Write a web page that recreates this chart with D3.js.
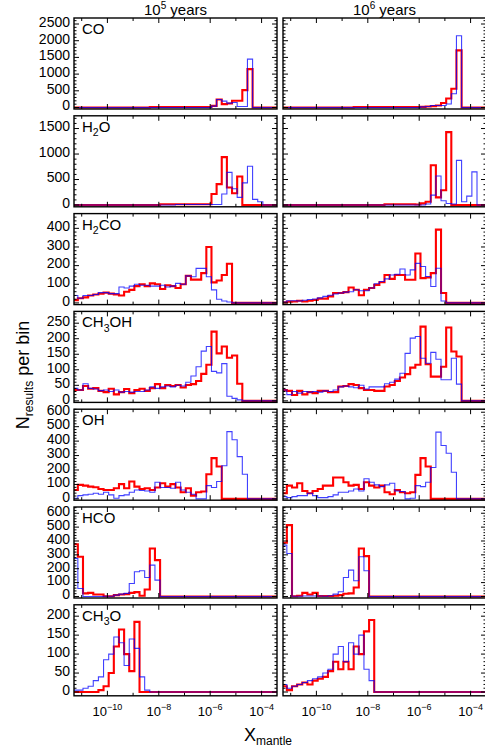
<!DOCTYPE html>
<html><head><meta charset="utf-8">
<script src="https://cdn.jsdelivr.net/npm/d3@7"></script>
<style>
body{margin:0;background:#fff}
svg{display:block}
text{font-family:"Liberation Sans",Arial,Helvetica,sans-serif;fill:#000}
</style>
</head><body>
<svg id="chart" width="485" height="747"></svg>
<script>
// ---------------- DATA ----------------
const species = ["CO","H2O","H2CO","CH3OH","OH","HCO","CH3O"];
const columnTitles = [["10","5"," years"],["10","6"," years"]];
const binStart = -11.35;   // log10 of left edge of first bin
const binWidth = 0.2;      // dex
const xTickExponents = [-10,-8,-6,-4];
const yTickLabels = {
  CO:[0,500,1000,1500,2000,2500],
  H2O:[0,500,1000,1500],
  H2CO:[0,100,200,300,400],
  CH3OH:[0,50,100,150,200,250],
  OH:[0,100,200,300,400,500,600],
  HCO:[0,100,200,300,400,500,600],
  CH3O:[0,50,100,150,200]
};
// counts per bin (bin k starts at binStart + k*binWidth); bins after the list are empty
const CO_5_blue  = [0,0,0,0,0,0,0,0,0,0,0,0,0,0,0,0,0,0,0,0,0,0,0,0,0,0,0,40,240,190,130,150,30,30,1450];
const CO_5_red   = [0,0,0,0,0,0,0,0,0,0,0,0,0,0,0,15,15,15,15,15,15,15,15,15,15,15,15,50,240,100,120,200,200,520,1150];
const CO_6_blue  = [0,0,0,0,0,0,0,0,0,0,0,0,0,0,0,0,0,0,0,0,0,0,0,0,0,0,0,20,30,60,60,60,105,410,2150];
const CO_6_red   = [0,0,0,0,0,0,0,0,0,0,0,0,0,0,15,15,15,15,15,15,15,15,15,15,15,15,15,20,30,40,60,135,270,560,1710];

const H2O_5_blue = [0,0,0,0,0,0,0,0,0,0,0,0,0,0,0,0,0,0,0,0,10,10,10,10,10,10,10,10,10,215,640,320,150,435,760,110,65];
const H2O_5_red  = [0,0,0,0,0,0,0,0,0,0,0,0,0,0,0,0,0,15,15,15,15,15,15,15,15,15,15,215,410,940,345,230,560];
const H2O_6_blue = [0,0,0,0,0,0,0,0,0,0,0,0,0,0,0,0,0,0,0,0,0,0,0,0,0,0,0,0,20,195,570,85,30,20,875,65,175,650];
const H2O_6_red  = [0,0,0,0,0,0,0,0,0,0,0,0,0,0,0,0,0,0,0,0,15,15,15,15,15,15,10,32,65,780,150,290,1430];

const H2CO_5_blue = [40,25,40,40,45,55,55,50,50,85,80,90,100,95,95,90,90,95,85,90,105,100,145,140,185,185,140,70,20,10,5];
const H2CO_5_red  = [15,25,30,40,45,50,55,50,45,40,60,70,90,100,90,105,100,75,95,90,80,100,145,125,125,160,300,110,120,150,210];
const H2CO_6_blue = [5,12,12,10,14,18,21,27,35,41,48,53,58,60,71,65,65,80,103,115,129,150,154,182,150,177,212,195,142,88,186,10];
const H2CO_6_red  = [3,7,8,12,8,12,16,23,23,35,53,53,58,83,71,41,71,80,97,111,150,129,150,150,124,124,265,133,136,160,393,53];

const CH3OH_5_blue = [40,35,55,40,38,33,35,30,35,28,30,28,30,30,35,45,40,45,48,45,50,48,60,80,110,160,175,95,90,120,15,8,3];
const CH3OH_5_red  = [35,35,48,39,41,32,28,39,21,28,38,25,35,39,32,41,54,41,51,48,51,43,51,54,64,87,116,223,153,175,139,146,55];
const CH3OH_6_blue = [35,20,30,25,30,28,30,28,32,30,35,45,48,45,42,50,38,45,45,45,55,60,70,89,153,202,207,137,121,156,134,68,68,137,54];
const CH3OH_6_red  = [35,32,19,32,21,28,25,32,32,28,28,46,48,54,51,41,35,35,32,32,46,51,64,75,86,107,116,239,118,78,78,110,236,159,143];

const OH_5_blue = [5,23,28,32,39,32,46,28,5,23,28,46,62,58,55,46,115,79,79,74,115,62,46,32,0,0,92,79,120,229,466,409,293,171];
const OH_5_red  = [62,97,92,85,81,69,62,62,74,102,74,120,85,69,74,62,79,108,85,102,79,46,74,23,46,51,171,282,224];
const OH_6_blue = [16,9,16,23,23,39,23,9,9,16,28,46,46,55,69,55,139,115,97,85,97,108,55,51,0,5,92,85,115,217,462,370,316,185];
const OH_6_red  = [39,92,79,108,55,39,55,69,92,92,148,148,115,92,97,69,115,92,79,92,46,32,62,46,39,46,166,282,224];

const HCO_5_blue = [274,58,0,0,0,0,2,2,10,17,22,94,178,185,137,226,118];
const HCO_5_red  = [377,286,22,26,14,14,2,2,10,14,17,26,31,5,50,346,262];
const HCO_6_blue = [370,310,2,2,3,3,3,3,2,5,17,34,137,190,113,286,185];
const HCO_6_red  = [387,514,2,5,26,14,26,3,3,3,5,10,20,22,65,346,291];

const CH3O_5_blue = [5,5,10,15,30,40,85,100,145,130,70,140,115,40,5];
const CH3O_5_red  = [0,0,0,0,0,5,15,50,120,165,100,55,185,0];
const CH3O_6_blue = [20,10,15,20,25,30,35,40,50,60,100,120,80,130,100,150,60,30];
const CH3O_6_red  = [15,5,15,20,25,20,30,35,40,55,80,60,80,60,120,100,160,190];

const series = {
  CO:[[CO_5_blue,CO_5_red],[CO_6_blue,CO_6_red]],
  H2O:[[H2O_5_blue,H2O_5_red],[H2O_6_blue,H2O_6_red]],
  H2CO:[[H2CO_5_blue,H2CO_5_red],[H2CO_6_blue,H2CO_6_red]],
  CH3OH:[[CH3OH_5_blue,CH3OH_5_red],[CH3OH_6_blue,CH3OH_6_red]],
  OH:[[OH_5_blue,OH_5_red],[OH_6_blue,OH_6_red]],
  HCO:[[HCO_5_blue,HCO_5_red],[HCO_6_blue,HCO_6_red]],
  CH3O:[[CH3O_5_blue,CH3O_5_red],[CH3O_6_blue,CH3O_6_red]]
};

// ---------------- LAYOUT / STYLE ----------------
const xDomain = [-11.3,-3.4];
const yDomains = {CO:[-45,2680],H2O:[-35,1750],H2CO:[-9,479],CH3OH:[-5,288],OH:[-9,621],HCO:[-11,645],CH3O:[-10,230]};
const yMinorStep = {CO:100,H2O:100,H2CO:20,CH3OH:10,OH:20,HCO:20,CH3O:10};
const colX = [74,283], panelW = 203;
const rowTop0 = 18, rowPitch = 97.8, panelH = 91;
const BLUE = "#0000ff", RED = "#ff0000";

const svg = d3.select("#chart");
const defs = svg.append("defs");

function addChem(sel, name, size){
  const parts = name.match(/[A-Za-z]+|\d+/g);
  let prevSub = false;
  parts.forEach(p=>{
    if (/\d/.test(p)) {
      sel.append("tspan").attr("font-size",size*0.7).attr("dy",size*0.28).text(p);
      prevSub = true;
    } else {
      sel.append("tspan").attr("font-size",size).attr("dy",prevSub? -size*0.28:0).text(p);
      prevSub = false;
    }
  });
}

species.forEach((sp,r)=>{
  const top = rowTop0 + r*rowPitch;
  const y = d3.scaleLinear().domain(yDomains[sp]).range([top+panelH, top]);
  [0,1].forEach(c=>{
    const x0 = colX[c];
    const x = d3.scaleLinear().domain(xDomain).range([x0, x0+panelW]);
    const g = svg.append("g");
    const cid = `clip-${r}-${c}`;
    defs.append("clipPath").attr("id",cid).append("rect")
      .attr("x",x0).attr("y",top).attr("width",panelW).attr("height",panelH);

    const [blue, red] = series[sp][c];
    const line = d3.line().x(d=>x(d[0])).y(d=>y(d[1])).curve(d3.curveStepAfter);
    const toPts = vals=>{
      const pts = vals.map((v,k)=>[binStart+k*binWidth, v]);
      pts.push([binStart+vals.length*binWidth, 0]);
      pts.push([xDomain[1]+1, 0]);
      return pts;
    };
    const pg = g.append("g").attr("clip-path",`url(#${cid})`);
    pg.append("path").attr("d",line(toPts(red))).attr("fill","none")
      .attr("stroke",RED).attr("stroke-width",2.1);
    pg.append("path").attr("d",line(toPts(blue))).attr("fill","none")
      .attr("stroke",BLUE).attr("stroke-width",1.1).attr("stroke-opacity",0.75);

    // frame
    g.append("rect").attr("x",x0).attr("y",top).attr("width",panelW).attr("height",panelH)
      .attr("fill","none").attr("stroke","#000").attr("stroke-width",1.4);

    // x ticks (each decade), inward top & bottom
    d3.range(-11,-3).forEach(d=>{
      const len = xTickExponents.includes(d)?5:3;
      g.append("line").attr("x1",x(d)).attr("x2",x(d)).attr("y1",top+panelH).attr("y2",top+panelH-len)
        .attr("stroke","#000").attr("stroke-width",1);
      g.append("line").attr("x1",x(d)).attr("x2",x(d)).attr("y1",top).attr("y2",top+len)
        .attr("stroke","#000").attr("stroke-width",1);
    });
    // y ticks
    const yd = yDomains[sp];
    d3.range(0, yd[1], yMinorStep[sp]).forEach(v=>{
      const major = yTickLabels[sp].includes(v);
      const len = major?5:2.5;
      g.append("line").attr("x1",x0).attr("x2",x0+len).attr("y1",y(v)).attr("y2",y(v)).attr("stroke","#000").attr("stroke-width",1);
      g.append("line").attr("x1",x0+panelW).attr("x2",x0+panelW-len).attr("y1",y(v)).attr("y2",y(v)).attr("stroke","#000").attr("stroke-width",1);
    });
    if (c===0){
      yTickLabels[sp].forEach(v=>{
        svg.append("text").attr("x",x0-4).attr("y",y(v)).attr("dy","0.2em")
          .attr("text-anchor","end").attr("font-size",14).text(v);
      });
      // species label (left column only)
      const t = svg.append("text").attr("x",x0+8).attr("y",top+16);
      addChem(t, sp, 15);
    }

    // bottom row x labels
    if (r===species.length-1){
      xTickExponents.forEach(e=>{
        const tt = svg.append("text").attr("x",x(e)).attr("y",top+panelH+20).attr("text-anchor","middle");
        tt.append("tspan").attr("font-size",13).text("10");
        tt.append("tspan").attr("font-size",9).attr("dy",-6).text(String(e).replace("-","\u2212"));
      });
    }
    // column titles
    if (r===0){
      const tt = svg.append("text").attr("x",x0+panelW/2).attr("y",top-3).attr("text-anchor","middle");
      const ct = columnTitles[c];
      tt.append("tspan").attr("font-size",15).text(ct[0]);
      tt.append("tspan").attr("font-size",10).attr("dy",-6).text(ct[1]);
      tt.append("tspan").attr("font-size",15).attr("dy",6).text(ct[2]);
    }
  });
});

// axis titles
const xt = svg.append("text").attr("x",268).attr("y",741).attr("text-anchor","middle");
xt.append("tspan").attr("font-size",18).text("X");
xt.append("tspan").attr("font-size",12).attr("dy",4).text("mantle");

const yt = svg.append("text").attr("transform","translate(29,375) rotate(-90)").attr("text-anchor","middle");
yt.append("tspan").attr("font-size",18).text("N");
yt.append("tspan").attr("font-size",12).attr("dy",4).text("results");
yt.append("tspan").attr("font-size",18).attr("dy",-4).text(" per bin");
</script>
</body></html>
